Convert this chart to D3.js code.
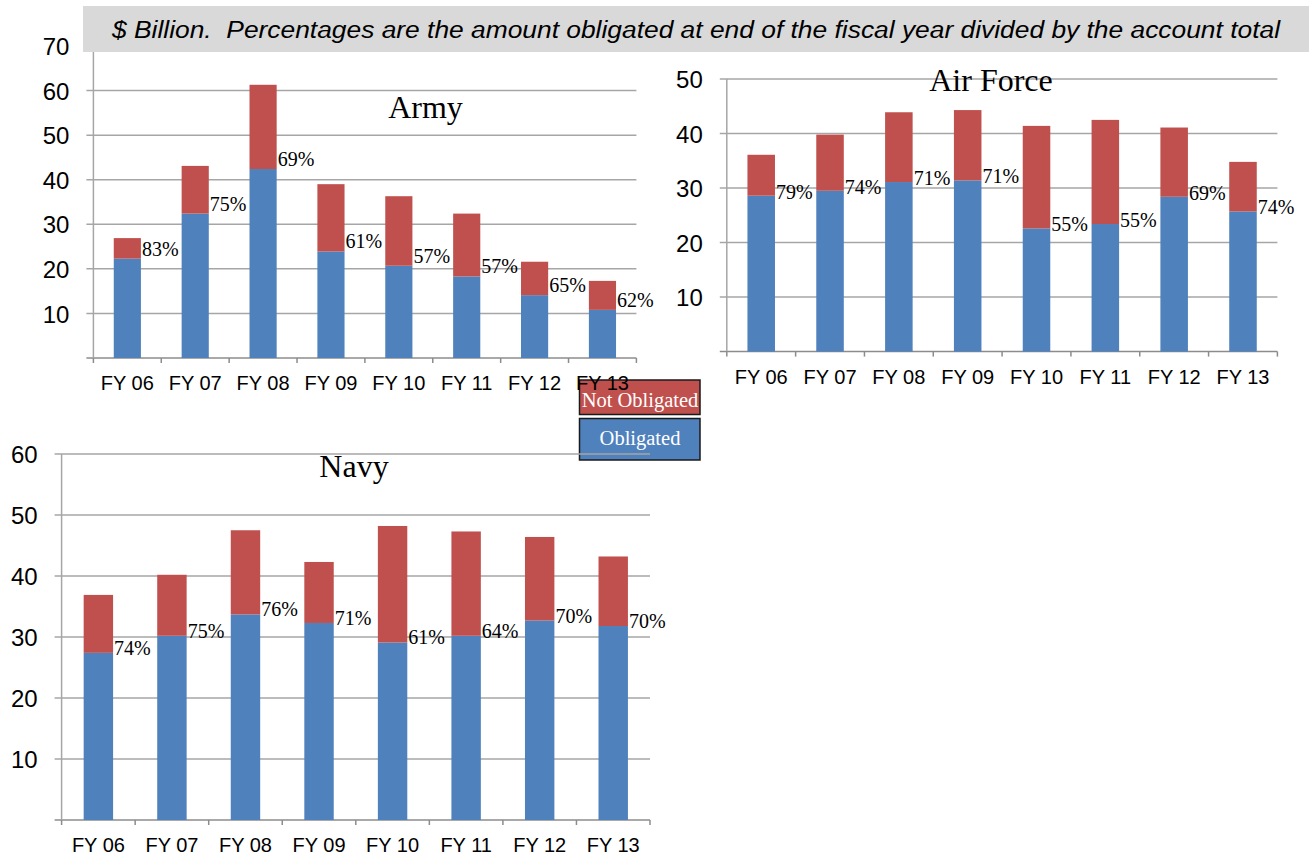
<!DOCTYPE html>
<html>
<head>
<meta charset="utf-8">
<script src="https://cdn.jsdelivr.net/npm/d3@7/dist/d3.min.js"></script>
<style>
  body { margin: 0; background: #fff; }
  svg { display: block; }
  .ylab text { font-family: "Liberation Sans", Arial, sans-serif; font-size: 24px; fill: #000; }
  .xlab text { font-family: "Liberation Sans", Arial, sans-serif; font-size: 20px; fill: #000; }
  .pct { font-family: "Liberation Serif", "Times New Roman", serif; font-size: 20px; fill: #000; }
  .legtext { font-family: "Liberation Serif", "Times New Roman", serif; font-size: 20.5px; fill: #fff; }
  .title { font-family: "Liberation Serif", "Times New Roman", serif; font-size: 32px; fill: #000; }
</style>
</head>
<body>
<svg id="chart" width="1315" height="856"></svg>
<script>
// Data (values in $ Billion)
let years = ["FY 06", "FY 07", "FY 08", "FY 09", "FY 10", "FY 11", "FY 12", "FY 13"];

let armyObligated    = [22.3, 32.4, 42.4, 23.9, 20.7, 18.3, 14.1, 10.8];
let armyNotObligated = [4.6, 10.7, 18.9, 15.1, 15.6, 14.1, 7.5, 6.5];
let armyPct          = ["83%", "75%", "69%", "61%", "57%", "57%", "65%", "62%"];

let afObligated    = [28.6, 29.5, 31.1, 31.4, 22.6, 23.4, 28.4, 25.7];
let afNotObligated = [7.5, 10.3, 12.8, 12.9, 18.8, 19.1, 12.7, 9.1];
let afPct          = ["79%", "74%", "71%", "71%", "55%", "55%", "69%", "74%"];

let navyObligated    = [27.4, 30.2, 33.7, 32.3, 29.1, 30.2, 32.7, 31.8];
let navyNotObligated = [9.5, 10.0, 13.8, 10.0, 19.1, 17.1, 13.7, 11.4];
let navyPct          = ["74%", "75%", "76%", "71%", "61%", "64%", "70%", "70%"];

let headerText = "$ Billion.  Percentages are the amount obligated at end of the fiscal year divided by the account total";

let blue = "#4f81bd";
let red = "#c0504d";
let gridColor = "#a6a6a6";

let svg = d3.select("#chart");

// Legend (drawn first so the charts sit on top of it)
let legend = svg.append("g");
legend.append("rect")
  .attr("x", 579.5).attr("y", 380).attr("width", 120.5).attr("height", 34.5)
  .attr("fill", red).attr("stroke", "#1a1a1a").attr("stroke-width", 1.5);
legend.append("rect")
  .attr("x", 579.5).attr("y", 418.5).attr("width", 120.5).attr("height", 41.5)
  .attr("fill", blue).attr("stroke", "#1a1a1a").attr("stroke-width", 1.5);
legend.append("text").attr("class", "legtext")
  .attr("x", 640).attr("y", 407).attr("text-anchor", "middle")
  .text("Not Obligated");
legend.append("text").attr("class", "legtext")
  .attr("x", 640).attr("y", 445).attr("text-anchor", "middle")
  .text("Obligated");

function drawPanel(cfg) {
  let g = svg.append("g");

  let x = d3.scaleBand()
    .domain(years)
    .range([cfg.x0, cfg.x1])
    .paddingInner(0.6)
    .paddingOuter(0.3);

  let y = d3.scaleLinear()
    .domain([0, cfg.yMax])
    .range([cfg.yBottom, cfg.yTop]);

  let tickVals = d3.range(10, cfg.yMax + 1, 10);

  // gridlines, with the small outer tick left of the axis
  g.append("g").selectAll("line")
    .data([0].concat(tickVals))
    .join("line")
    .attr("x1", cfg.x0 - 7).attr("x2", cfg.x1)
    .attr("y1", d => y(d)).attr("y2", d => y(d))
    .attr("stroke", d => d === 0 ? "#8c8c8c" : gridColor)
    .attr("stroke-width", 1.5);

  // y axis line
  g.append("line")
    .attr("x1", cfg.x0).attr("x2", cfg.x0)
    .attr("y1", y(0)).attr("y2", y(cfg.yMax))
    .attr("stroke", gridColor).attr("stroke-width", 1.5);

  // x axis boundary ticks
  g.append("g").selectAll("line")
    .data(d3.range(years.length + 1))
    .join("line")
    .attr("x1", i => cfg.x0 + i * x.step()).attr("x2", i => cfg.x0 + i * x.step())
    .attr("y1", y(0)).attr("y2", y(0) + 5)
    .attr("stroke", "#8c8c8c").attr("stroke-width", 1.5);

  // y labels
  let yAxis = g.append("g").attr("class", "ylab")
    .attr("transform", "translate(" + cfg.x0 + ",0)")
    .call(d3.axisLeft(y).tickValues(tickVals).tickSize(0).tickPadding(24));
  yAxis.select(".domain").remove();
  yAxis.selectAll("text").attr("dy", "0.36em");

  // x labels
  let xAxis = g.append("g").attr("class", "xlab")
    .attr("transform", "translate(0," + y(0) + ")")
    .call(d3.axisBottom(x).tickSize(0).tickPadding(18));
  xAxis.select(".domain").remove();

  // stacked bars
  let rows = years.map((yr, i) => ({ year: yr, obligated: cfg.obligated[i], notObligated: cfg.notObligated[i] }));
  let series = d3.stack().keys(["obligated", "notObligated"])(rows);
  let colors = { obligated: blue, notObligated: red };

  g.append("g").selectAll("g")
    .data(series)
    .join("g")
    .attr("fill", d => colors[d.key])
    .selectAll("rect")
    .data(d => d)
    .join("rect")
    .attr("x", d => x(d.data.year))
    .attr("width", x.bandwidth())
    .attr("y", d => y(d[1]))
    .attr("height", d => y(d[0]) - y(d[1]));

  // percentage labels
  g.append("g").selectAll("text")
    .data(rows)
    .join("text")
    .attr("class", "pct")
    .attr("x", d => x(d.year) + x.bandwidth() + 1)
    .attr("y", d => y(d.obligated) + cfg.pctOffset)
    .text((d, i) => cfg.pct[i]);

  // title
  g.append("text").attr("class", "title")
    .attr("x", cfg.titleX).attr("y", cfg.titleY)
    .attr("text-anchor", "middle")
    .text(cfg.title);
}

drawPanel({
  title: "Army", titleX: 425.5, titleY: 118,
  x0: 93.4, x1: 636.4, yBottom: 358, yTop: 46, yMax: 70,
  obligated: armyObligated, notObligated: armyNotObligated, pct: armyPct, pctOffset: -3
});

drawPanel({
  title: "Air Force", titleX: 991, titleY: 91,
  x0: 726.8, x1: 1277.4, yBottom: 351.6, yTop: 79, yMax: 50,
  obligated: afObligated, notObligated: afNotObligated, pct: afPct, pctOffset: 3
});

drawPanel({
  title: "Navy", titleX: 354, titleY: 477,
  x0: 61.6, x1: 650, yBottom: 820, yTop: 454, yMax: 60,
  obligated: navyObligated, notObligated: navyNotObligated, pct: navyPct, pctOffset: 2
});

// Header banner on top
svg.append("rect")
  .attr("x", 83).attr("y", 6).attr("width", 1226).attr("height", 46)
  .attr("fill", "#d9d9d9");
svg.append("text")
  .attr("x", 112).attr("y", 38)
  .attr("xml:space", "preserve")
  .attr("textLength", 1168)
  .attr("lengthAdjust", "spacingAndGlyphs")
  .style("white-space", "pre")
  .style("font-family", "'Liberation Sans', Arial, sans-serif")
  .style("font-size", "23px")
  .style("font-style", "italic")
  .text(headerText);
</script>
</body>
</html>
